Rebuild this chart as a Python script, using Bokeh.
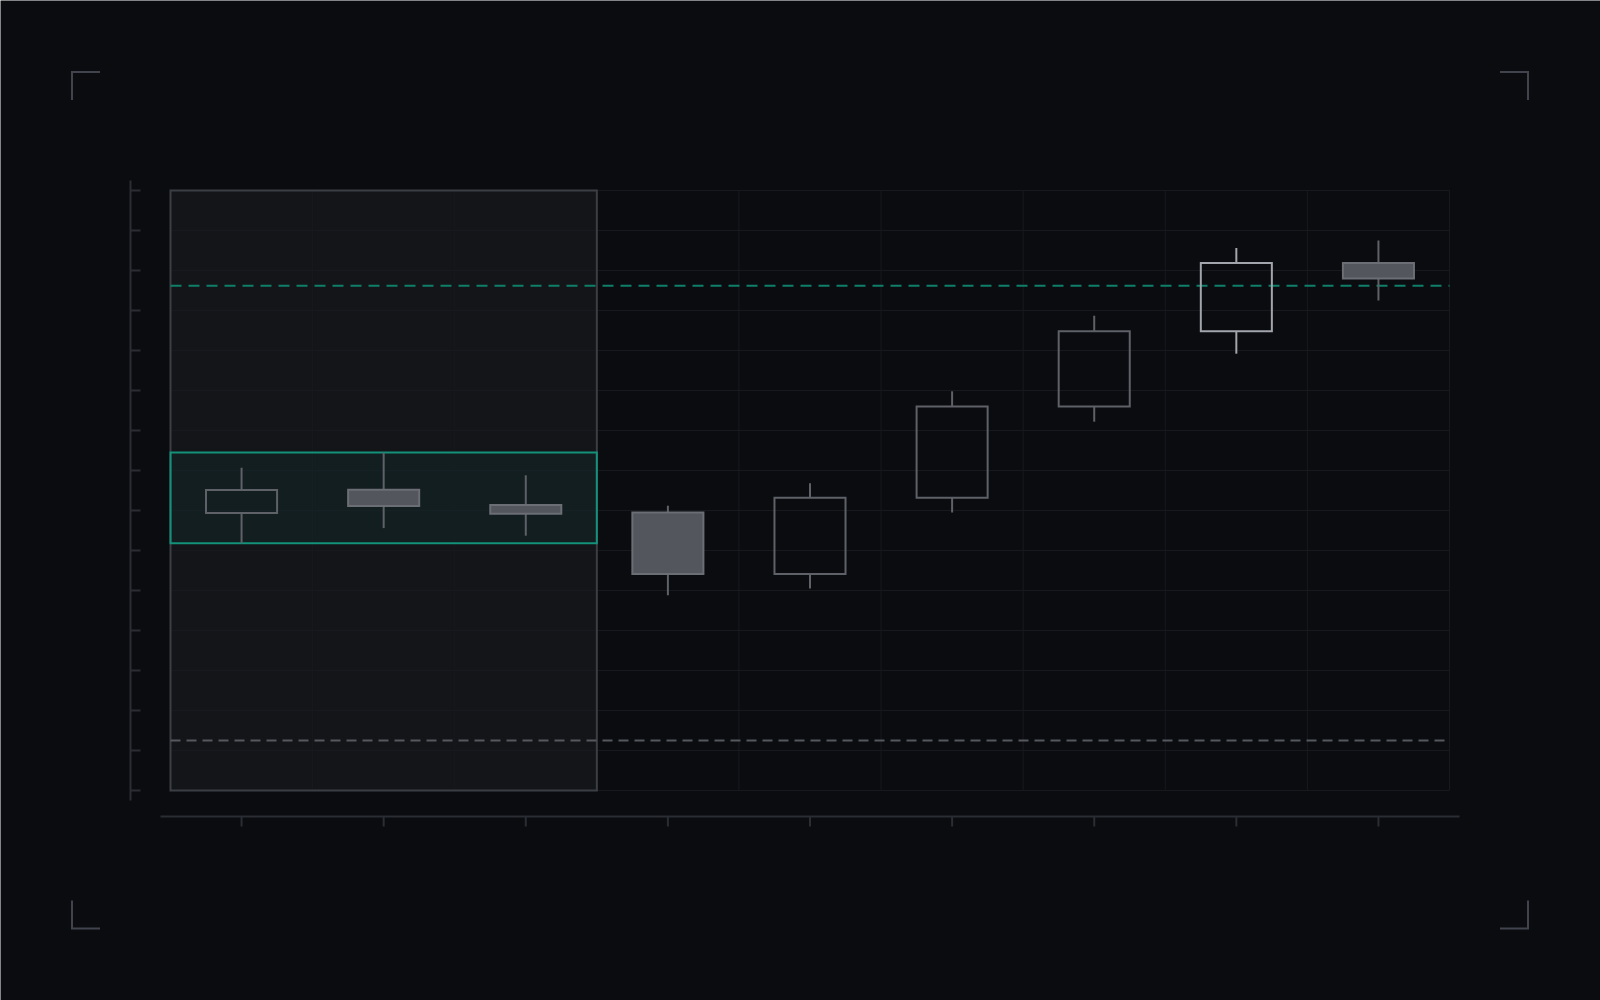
import numpy as np
from bokeh.plotting import figure
from bokeh.models import Range1d
from bokeh.embed import file_html
from bokeh.resources import INLINE

# ---------------- data ----------------
open_ = [69.4, 75.2, 71.4, 69.5, 54.1, 73.2, 96.0, 114.8, 131.9]
close = [75.1, 71.1, 69.2, 54.1, 73.2, 96.0, 114.8, 131.9, 128.0]
high = [80.7, 84.5, 78.8, 71.2, 76.8, 99.8, 118.7, 135.6, 137.5]
low = [61.8, 65.6, 63.7, 48.8, 50.5, 69.5, 92.2, 109.2, 122.5]
range_count = 3          # candles forming the consolidation range
target_level = 126.2     # green dashed level
stop_level = 12.5        # grey dashed level
y_ticks = list(range(0, 151, 10))
y_min, y_max = 0, 150
highlight_index = 7

# ---------------- styles ----------------
BG = "#0b0c10"
SHADE = "#141519"
SHADE_LINE = "#3b3e44"
GRID = "#18191e"
AXIS = "#2a2d34"
CORNER = "#41444c"
TEAL = "#0f7f6a"
BAND_LINE = "#13917a"
GREY_DASH = "#55585e"
WICK = "#5e6167"
HOLLOW = "#5e6167"
FILL = "#53565c"
FILL_LINE = "#6b6e74"
HIGHLIGHT = "#a2a5ac"

W, H, OFF = 1600, 1000, 0
FL, FR, FT, FB = 170, 1449, 190, 790   # plot frame in page pixels

n = len(open_)
sx = (FR - FL) / n
sy = (FB - FT) / (y_max - y_min)


def dx(px):
    return (px - FL) / sx


def dy(py):
    return y_min + (FB - py) / sy


p = figure(width=W, height=H,
           x_range=Range1d(dx(OFF), dx(OFF + W)),
           y_range=Range1d(dy(OFF + H), dy(OFF)),
           output_backend="svg", toolbar_location=None,
           x_axis_type=None, y_axis_type=None, min_border=0,
           background_fill_color=BG, border_fill_color=BG,
           outline_line_color=None)

o = np.array(open_)
c = np.array(close)
hi = np.array(high)
lo = np.array(low)
x = np.arange(n) + 0.5
body_top = np.maximum(o, c)
body_bot = np.minimum(o, c)
up = c >= o

# shaded consolidation region
p.quad(left=[0], right=[range_count], bottom=[y_min], top=[y_max],
       fill_color=SHADE, line_color=None)

# grid
p.segment(x0=0, y0=y_ticks, x1=n, y1=y_ticks, line_color=GRID, line_width=1)
vx = np.arange(1, n + 1)
p.segment(x0=vx, y0=y_min, x1=vx, y1=y_max, line_color=GRID, line_width=1)

# shaded border
p.quad(left=[0], right=[range_count], bottom=[y_min], top=[y_max],
       fill_color=None, line_color=SHADE_LINE, line_width=2, line_join="miter")

# range band
band_low = lo[:range_count].min()
band_high = hi[:range_count].max()
p.quad(left=[0], right=[range_count], bottom=[band_low], top=[band_high],
       fill_color=TEAL, fill_alpha=0.09, line_color=BAND_LINE, line_width=2,
       line_join="miter")

# levels
p.segment(x0=[0], y0=[target_level], x1=[n], y1=[target_level],
          line_color=TEAL, line_width=2, line_dash="11 7")
p.segment(x0=[0], y0=[stop_level], x1=[n], y1=[stop_level],
          line_color=GREY_DASH, line_width=2, line_dash="10 6")

# axes (drawn offset from frame)
ax_x = dx(FL - 40)
p.segment(x0=[ax_x], y0=[dy(FB + 10)], x1=[ax_x], y1=[dy(FT - 10)],
          line_color=AXIS, line_width=2)
p.segment(x0=ax_x, y0=y_ticks, x1=ax_x + 10 / sx, y1=y_ticks,
          line_color=AXIS, line_width=2)
ax_y = dy(FB + 26)
p.segment(x0=[dx(FL - 10)], y0=[ax_y], x1=[dx(FR + 10)], y1=[ax_y],
          line_color=AXIS, line_width=2)
p.segment(x0=x, y0=ax_y, x1=x, y1=ax_y - 10 / sy, line_color=AXIS, line_width=2)

# corner marks (page pixels -> data)
L, R, T, B, A = 71.5, 1527.5, 71.5, 928, 28
corner_xs = [[dx(L), dx(L), dx(L + A)], [dx(R - A), dx(R), dx(R)],
             [dx(L), dx(L), dx(L + A)], [dx(R - A), dx(R), dx(R)]]
corner_ys = [[dy(T + A), dy(T), dy(T)], [dy(T), dy(T), dy(T + A)],
             [dy(B - A), dy(B), dy(B)], [dy(B), dy(B), dy(B - A)]]
p.multi_line(xs=corner_xs, ys=corner_ys, line_color=CORNER, line_width=2,
             line_join="miter")

# candles
wick_col = [HIGHLIGHT if i == highlight_index else WICK for i in range(n)]
p.segment(x0=x, y0=hi, x1=x, y1=body_top, line_color=wick_col, line_width=2)
p.segment(x0=x, y0=body_bot, x1=x, y1=lo, line_color=wick_col, line_width=2)

hollow_col = [HIGHLIGHT if i == highlight_index else HOLLOW for i in range(n)]
hcols = [hollow_col[i] for i in range(n) if up[i]]
p.vbar(x=x[up], width=0.5, top=body_top[up], bottom=body_bot[up],
       fill_color=None, line_color=hcols, line_width=2, line_join="miter")
p.vbar(x=x[~up], width=0.5, top=body_top[~up], bottom=body_bot[~up],
       fill_color=FILL, line_color=FILL_LINE, line_width=2, line_join="miter")

open("out.html", "w").write(file_html(p, INLINE))
